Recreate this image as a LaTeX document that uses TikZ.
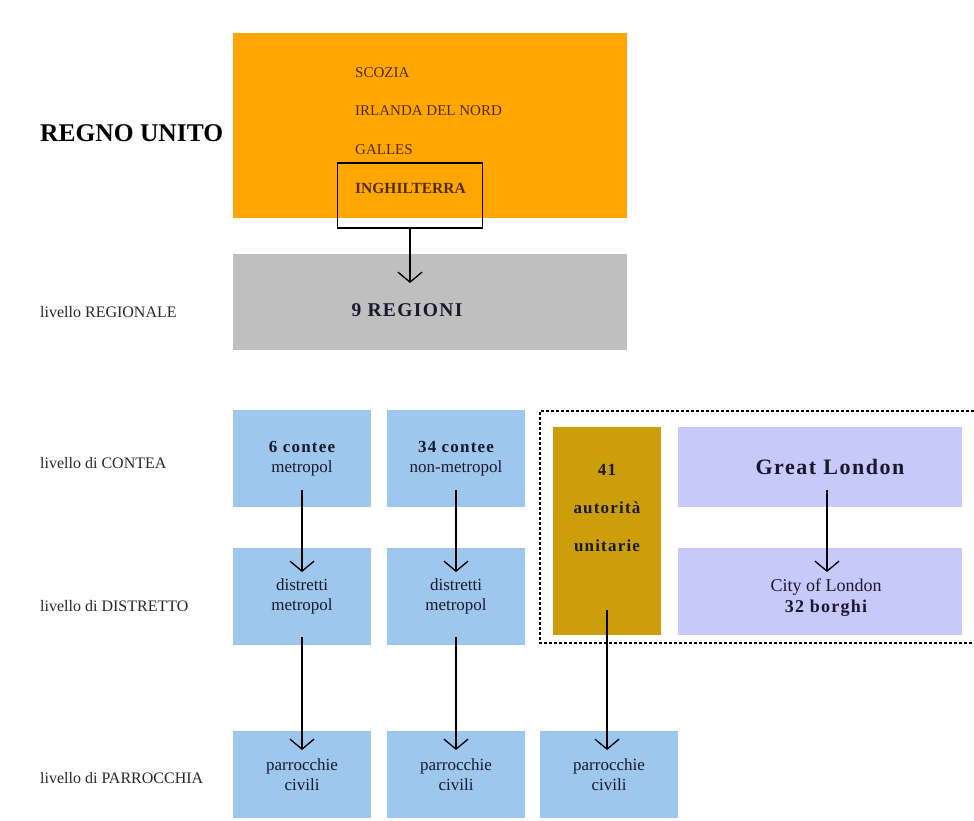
\documentclass[tikz,border=0pt]{standalone}
\usepackage{fontspec}
\setmainfont{Liberation Serif}
\usetikzlibrary{arrows.meta}
\definecolor{orangebox}{RGB}{255,166,0}
\definecolor{greybox}{RGB}{191,191,191}
\definecolor{bluebox}{RGB}{158,199,238}
\definecolor{goldbox}{RGB}{204,158,10}
\definecolor{lavbox}{RGB}{199,201,250}
\definecolor{browntext}{RGB}{80,45,0}
\definecolor{boxtext}{RGB}{25,25,45}
\definecolor{labeltext}{RGB}{40,40,40}
\newcommand{\wideb}[1]{{\bfseries\addfontfeature{LetterSpace=7}#1}}
\tikzset{
  box/.style={draw=none, inner sep=0pt, outer sep=0pt, align=center, text=boxtext,
    font=\fontsize{17}{20}\selectfont},
  bluecell/.style={box, fill=bluebox, minimum width=138pt, minimum height=97pt},
  bluelow/.style={box, fill=bluebox, minimum width=138pt, minimum height=87pt},
  levellabel/.style={anchor=west, inner sep=0pt, text=labeltext, font=\fontsize{16}{19}\selectfont},
  uktext/.style={anchor=west, inner sep=0pt, text=browntext, font=\fontsize{15}{18}\selectfont},
  arr/.style={line width=1.3pt, -{Straight Barb[length=10pt,width=24pt,line width=1.3pt]}},
  dashbox/.style={line width=1.2pt, dash pattern=on 3pt off 2pt}
}
\begin{document}
\begin{tikzpicture}[x=1pt,y=-1pt]
\useasboundingbox (0,0) rectangle (974,820);

% title and level labels
\node[anchor=west, inner sep=0pt, font=\fontsize{25.5}{30}\selectfont\bfseries] (title) at (40,133) {REGNO UNITO};
\node[levellabel] (lreg) at (40,312) {livello REGIONALE};
\node[levellabel] (lcon) at (40,463) {livello di CONTEA};
\node[levellabel] (ldis) at (40,606) {livello di DISTRETTO};
\node[levellabel] (lpar) at (40,778) {livello di PARROCCHIA};

% UK box
\node[box, fill=orangebox, minimum width=394pt, minimum height=185pt] (uk) at (430,125.5) {};
\node[uktext] (sco) at (355,73) {SCOZIA};
\node[uktext] (irl) at (355,111) {IRLANDA DEL NORD};
\node[uktext] (gal) at (355,150) {GALLES};
\node[uktext, font=\fontsize{15.5}{18}\selectfont\bfseries] (ing) at (355,188) {INGHILTERRA};
\node[draw=black, line width=1.3pt, minimum width=145pt, minimum height=65pt, inner sep=0pt] (ingbox) at (410,195.5) {};

% regions
\node[box, fill=greybox, minimum width=394pt, minimum height=96pt] (grey) at (430,302) {};
\node[box, font=\fontsize{19.5}{22}\selectfont] (regioni) at (407,310) {\wideb{9 REGIONI}};
\draw[arr, shorten >=-29pt] (ingbox.south) -- (ingbox.south |- grey.north);

% dashed group
\draw[dashbox] (974,411) -- (540,411) -- (540,643) -- (974,643);

% county level
\node[bluecell] (c1) at (302,458.5) {\wideb{6 contee}\\metropol};
\node[bluecell] (c2) at (456,458.5) {\wideb{34 contee}\\non-metropol};
\node[box, fill=goldbox, minimum width=108pt, minimum height=208pt] (gold) at (607,531) {};
\node[box, font=\fontsize{17}{38}\selectfont] (goldtext) at (607,508) {\wideb{41}\\\wideb{autorità}\\\wideb{unitarie}};
\node[box, fill=lavbox, minimum width=284pt, minimum height=80pt] (gl) at (820,467) {};
\node[box, font=\fontsize{22}{26}\selectfont] (gltext) at (830,467) {\wideb{Great London}};

% district level
\node[bluecell] (d1) at (302,596.5) {distretti\\metropol};
\node[bluecell] (d2) at (456,596.5) {distretti\\metropol};
\node[box, fill=lavbox, minimum width=284pt, minimum height=87pt] (city) at (820,591.5) {};
\node[box, font=\fontsize{18}{21}\selectfont] (citytext) at (826,598) {City of London\\\wideb{32 borghi}};

% parish level
\node[bluelow] (p1) at (302,774.5) {\raisebox{-3pt}{\parbox{130pt}{\centering parrocchie\\civili}}};
\node[bluelow] (p2) at (456,774.5) {\raisebox{-3pt}{\parbox{130pt}{\centering parrocchie\\civili}}};
\node[bluelow] (p3) at (609,774.5) {\raisebox{-3pt}{\parbox{130pt}{\centering parrocchie\\civili}}};

% connectors
\draw[arr, shorten <=-17pt, shorten >=-24pt] (c1.south) -- (d1.north);
\draw[arr, shorten <=-17pt, shorten >=-24pt] (c2.south) -- (d2.north);
\draw[arr, shorten <=-17pt, shorten >=-24pt] ([xshift=7pt]gl.south) -- ([xshift=7pt]city.north);
\draw[arr, shorten <=-8pt, shorten >=-19pt] (d1.south) -- (p1.north);
\draw[arr, shorten <=-8pt, shorten >=-19pt] (d2.south) -- (p2.north);
\draw[arr, shorten <=-25pt, shorten >=-19pt] (gold.south) -- (gold.south |- p3.north);
\end{tikzpicture}
\end{document}
